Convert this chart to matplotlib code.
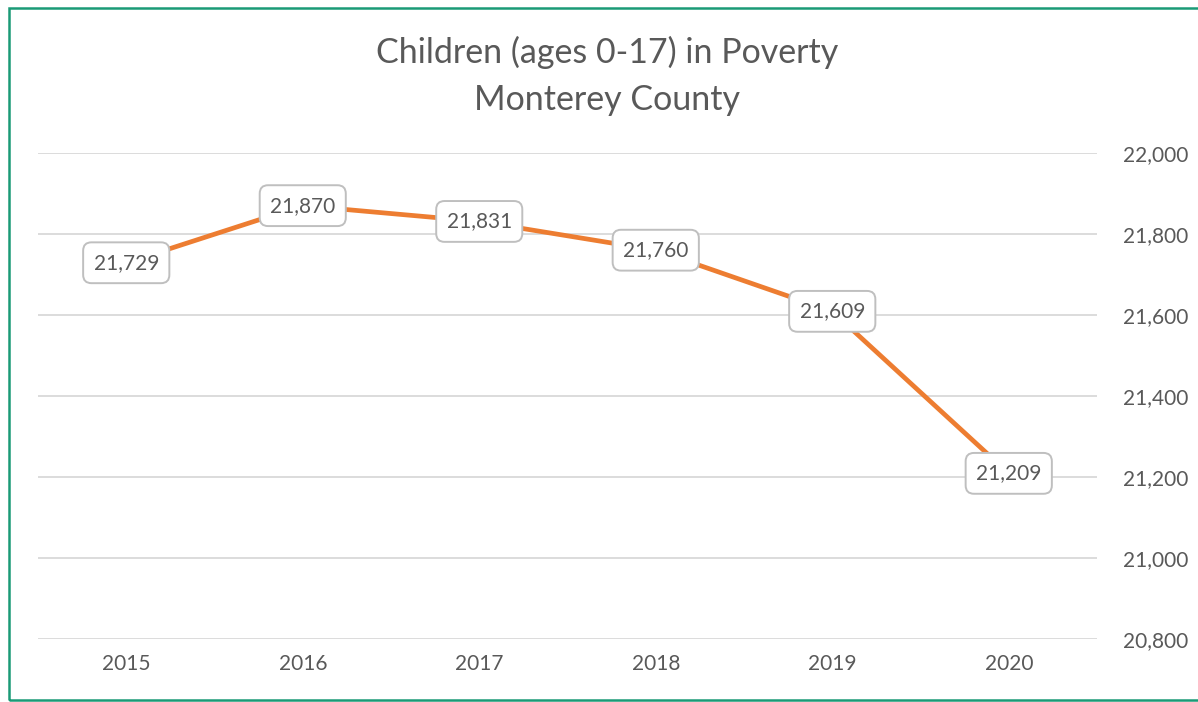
import numpy as np
import matplotlib
matplotlib.use("Agg")
import matplotlib.pyplot as plt
from matplotlib.ticker import FuncFormatter
from matplotlib.patches import Rectangle

years = ['2015', '2016', '2017', '2018', '2019', '2020']
children = [21729, 21870, 21831, 21760, 21609, 21209]
y_ticks = [20800, 21000, 21200, 21400, 21600, 21800, 22000]

plt.rcParams['font.family'] = ['Lato', 'DejaVu Sans']
txt_color = '#595959'

fig = plt.figure(figsize=(11.98, 7.02), dpi=100)
ax = fig.add_axes([38/1198, 1 - 639/702, (1097-38)/1198, (639-153)/702])

x = np.arange(len(years))
ax.plot(x, children, color='#ED7D31', lw=3.4, solid_capstyle='butt', zorder=3)

for xi, v in zip(x, children):
    ax.text(xi, v, f'{v:,}', ha='center', va='center', fontsize=15, color=txt_color, zorder=4,
            bbox=dict(boxstyle='round,pad=0.5,rounding_size=0.4', facecolor='white',
                      edgecolor='#bfbfbf', linewidth=1.4))

ax.set_xlim(-0.5, len(years) - 0.5)
ax.set_ylim(y_ticks[0], y_ticks[-1])
ax.set_xticks(x)
ax.set_xticklabels(years)
ax.set_yticks(y_ticks)
ax.yaxis.set_major_formatter(FuncFormatter(lambda v, p: f'{int(v):,}'))
ax.yaxis.tick_right()
ax.tick_params(axis='both', length=0, labelsize=15, colors=txt_color)
ax.tick_params(axis='y', pad=19)
ax.tick_params(axis='x', pad=11)
ax.grid(axis='y', color='#d9d9d9', lw=1.3)
ax.set_axisbelow(True)
for s in ax.spines.values():
    s.set_visible(False)

fig.text(607/1198, 1 - 52/702, 'Children (ages 0-17) in Poverty', ha='center', va='center',
         fontsize=24.5, color=txt_color)
fig.text(607/1198, 1 - 100/702, 'Monterey County', ha='center', va='center',
         fontsize=24.5, color=txt_color)

# chart border
fig.patches.append(Rectangle((8.5/1198, 1 - 700/702), 1.1, 692/702, transform=fig.transFigure,
                             fill=False, edgecolor='#1a9a76', lw=1.8))

fig.savefig('out.png', dpi=100)
